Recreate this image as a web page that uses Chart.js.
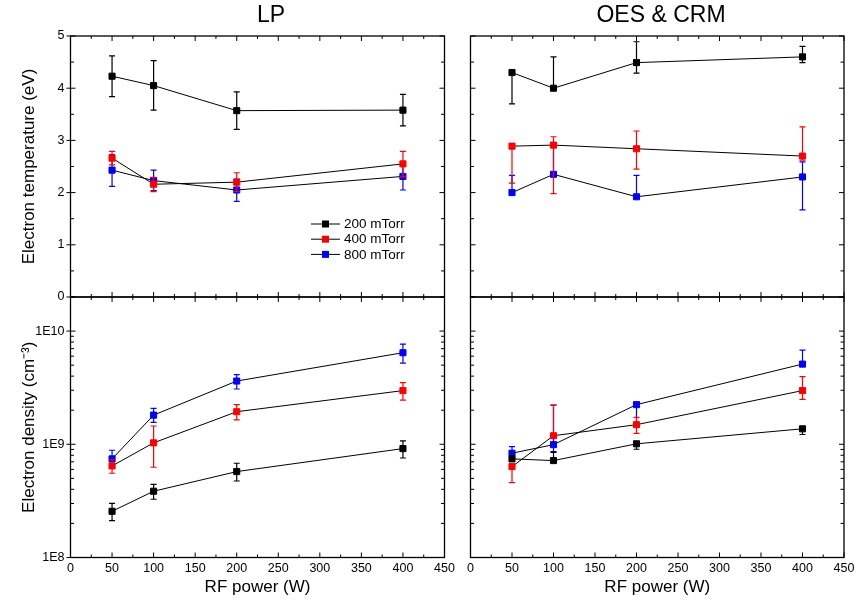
<!DOCTYPE html>
<html>
<head>
<meta charset="utf-8">
<script src="https://cdn.jsdelivr.net/npm/chart.js@4.4.1/dist/chart.umd.min.js"></script>
<style>
html, body { margin: 0; padding: 0; background: #ffffff; }
#wrap { position: relative; width: 865px; height: 606px; background: #ffffff; }
#wrap canvas { position: absolute; left: 0; top: 0; }
</style>
</head>
<body>
<div id="wrap">
  <canvas id="cTL" width="865" height="606"></canvas>
  <canvas id="cTR" width="865" height="606"></canvas>
  <canvas id="cBL" width="865" height="606"></canvas>
  <canvas id="cBR" width="865" height="606"></canvas>
</div>
<script>
// ---------------- DATA ----------------
const power = [50, 100, 200, 400];              // RF power (W)
const seriesLabels = ['200 mTorr', '400 mTorr', '800 mTorr'];
const seriesColors = ['#000000', '#ff0000', '#0000ff'];
const panelTitles = ['LP', 'OES & CRM'];

// LP - electron temperature (eV)
const lpTe200   = [4.23, 4.05, 3.57, 3.58];
const lpTe200Lo = [3.84, 3.58, 3.21, 3.28];
const lpTe200Hi = [4.62, 4.53, 3.93, 3.88];
const lpTe400   = [2.66, 2.16, 2.20, 2.55];
const lpTe400Lo = [2.53, 2.02, 2.02, 2.30];
const lpTe400Hi = [2.79, 2.29, 2.38, 2.79];
const lpTe800   = [2.43, 2.23, 2.05, 2.31];
const lpTe800Lo = [2.12, 2.04, 1.83, 2.05];
const lpTe800Hi = [2.73, 2.43, 2.26, 2.57];

// OES & CRM - electron temperature (eV)
const oesTe200   = [4.30, 4.00, 4.49, 4.60];
const oesTe200Lo = [3.70, 4.00, 4.29, 4.49];
const oesTe200Hi = [4.30, 4.60, 4.89, 4.80];
const oesTe400   = [2.89, 2.91, 2.84, 2.70];
const oesTe400Lo = [2.18, 1.98, 2.45, 2.62];
const oesTe400Hi = [2.89, 3.07, 3.18, 3.26];
const oesTe800   = [2.00, 2.35, 1.92, 2.30];
const oesTe800Lo = [2.00, 2.35, 1.92, 1.67];
const oesTe800Hi = [2.33, 2.89, 2.33, 2.59];

// LP - electron density (cm^-3)
const lpNe200   = [2.56e8, 3.85e8, 5.74e8, 9.16e8];
const lpNe200Lo = [2.12e8, 3.27e8, 4.74e8, 7.57e8];
const lpNe200Hi = [3.01e8, 4.43e8, 6.80e8, 1.07e9];
const lpNe400   = [6.44e8, 1.03e9, 1.94e9, 2.98e9];
const lpNe400Lo = [5.55e8, 6.27e8, 1.64e9, 2.46e9];
const lpNe400Hi = [7.30e8, 1.45e9, 2.24e9, 3.50e9];
const lpNe800   = [7.43e8, 1.81e9, 3.62e9, 6.44e9];
const lpNe800Lo = [6.40e8, 1.56e9, 3.08e9, 5.22e9];
const lpNe800Hi = [8.86e8, 2.08e9, 4.12e9, 7.68e9];

// OES & CRM - electron density (cm^-3)
const oesNe200   = [7.43e8, 7.18e8, 1.01e9, 1.37e9];
const oesNe200Lo = [7.43e8, 7.18e8, 9.04e8, 1.22e9];
const oesNe200Hi = [7.43e8, 8.50e8, 1.01e9, 1.37e9];
const oesNe400   = [6.35e8, 1.19e9, 1.49e9, 2.98e9];
const oesNe400Lo = [4.59e8, 1.19e9, 1.25e9, 2.49e9];
const oesNe400Hi = [6.35e8, 2.22e9, 1.73e9, 3.96e9];
const oesNe800   = [8.34e8, 9.93e8, 2.24e9, 5.11e9];
const oesNe800Lo = [8.34e8, 8.61e8, 1.48e9, 5.11e9];
const oesNe800Hi = [9.53e8, 2.22e9, 2.24e9, 6.79e9];

// ---------------- HELPERS ----------------
const FONT = "'Liberation Sans', Arial, Helvetica, sans-serif";
Chart.defaults.font.family = FONT;
Chart.defaults.color = '#000000';

function makeDatasets(vals, los, his) {
  return vals.map((v, s) => ({
    label: seriesLabels[s],
    data: power.map((x, i) => ({ x: x, y: v[i] })),
    errLo: los[s],
    errHi: his[s],
    errColor: seriesColors[s],
    borderColor: '#000000',
    borderWidth: 1,
    pointStyle: 'rect',
    pointRadius: 4.3,
    pointHoverRadius: 4.3,
    pointBorderWidth: 1,
    pointBackgroundColor: seriesColors[s],
    pointBorderColor: seriesColors[s],
    fill: false,
    tension: 0,
    order: s
  }));
}

const panelPlugin = {
  id: 'panelDeco',
  beforeDatasetDraw(chart, args) {
    const ds = chart.data.datasets[args.index];
    const xs = chart.scales.x, ys = chart.scales.y;
    const ctx = chart.ctx;
    ctx.save();
    ctx.strokeStyle = ds.errColor;
    ctx.lineWidth = 1.2;
    ds.data.forEach((p, i) => {
      const px = xs.getPixelForValue(p.x);
      const lo = ds.errLo[i], hi = ds.errHi[i];
      const yl = ys.getPixelForValue(lo), yh = ys.getPixelForValue(hi);
      ctx.beginPath();
      ctx.moveTo(px, yl); ctx.lineTo(px, yh);
      if (hi > p.y) { ctx.moveTo(px - 3, yh); ctx.lineTo(px + 3, yh); }
      if (lo < p.y) { ctx.moveTo(px - 3, yl); ctx.lineTo(px + 3, yl); }
      ctx.stroke();
    });
    ctx.restore();
  },
  afterDraw(chart, args, opts) {
    const ctx = chart.ctx;
    const ca = chart.chartArea;
    const xs = chart.scales.x, ys = chart.scales.y;
    ctx.save();
    ctx.strokeStyle = '#000000';
    // frame
    ctx.lineWidth = 1.3;
    ctx.strokeRect(ca.left, ca.top, ca.right - ca.left, ca.bottom - ca.top);
    ctx.lineWidth = 1;
    ctx.beginPath();
    // x ticks: majors from scale, minors at midpoints
    const xt = xs.ticks.map(t => t.value);
    xt.forEach((v, i) => {
      const px = xs.getPixelForValue(v);
      ctx.moveTo(px, ca.bottom + (opts.crossX ? 4 : 0)); ctx.lineTo(px, ca.bottom - 5);
      ctx.moveTo(px, ca.top); ctx.lineTo(px, ca.top + 5);
      if (i < xt.length - 1) {
        const pm = xs.getPixelForValue((v + xt[i + 1]) / 2);
        ctx.moveTo(pm, ca.bottom); ctx.lineTo(pm, ca.bottom - 3);
        ctx.moveTo(pm, ca.top); ctx.lineTo(pm, ca.top + 3);
      }
    });
    // y ticks
    const out = opts.outerMajor ? 4 : 0;
    if (ys.type === 'logarithmic') {
      ys.ticks.forEach(t => {
        const v = t.value;
        const e = Math.floor(Math.log10(v) + 1e-9);
        const m = v / Math.pow(10, e);
        if (Math.abs(m - Math.round(m)) > 1e-6) return;
        const py = ys.getPixelForValue(v);
        const major = Math.round(m) === 1;
        const len = major ? 5 : 3.5;
        ctx.moveTo(ca.left - (major ? out : 0), py); ctx.lineTo(ca.left + len, py);
        ctx.moveTo(ca.right, py); ctx.lineTo(ca.right - len, py);
      });
    } else {
      const yt = ys.ticks.map(t => t.value);
      yt.forEach((v, i) => {
        const py = ys.getPixelForValue(v);
        ctx.moveTo(ca.left - out, py); ctx.lineTo(ca.left + 5, py);
        ctx.moveTo(ca.right, py); ctx.lineTo(ca.right - 5, py);
        if (i < yt.length - 1) {
          const pm = ys.getPixelForValue((v + yt[i + 1]) / 2);
          ctx.moveTo(ca.left, pm); ctx.lineTo(ca.left + 3.5, pm);
          ctx.moveTo(ca.right, pm); ctx.lineTo(ca.right - 3.5, pm);
        }
      });
    }
    ctx.stroke();

    // panel title
    if (opts.title) {
      ctx.fillStyle = '#000000';
      ctx.font = "23px " + FONT;
      ctx.textAlign = 'center';
      ctx.textBaseline = 'alphabetic';
      ctx.fillText(opts.title, opts.titleX, opts.titleY);
    }
    // legend
    if (opts.legend) {
      const L = opts.legend;
      ctx.font = "13.5px " + FONT;
      ctx.textAlign = 'left';
      ctx.textBaseline = 'middle';
      chart.data.datasets.forEach((ds, i) => {
        const y = L.y + i * L.dy;
        ctx.strokeStyle = '#000000';
        ctx.lineWidth = 1;
        ctx.beginPath();
        ctx.moveTo(L.x, y); ctx.lineTo(L.x + L.len, y);
        ctx.stroke();
        ctx.fillStyle = ds.pointBackgroundColor;
        ctx.fillRect(L.x + L.len / 2 - 3.5, y - 3.5, 7, 7);
        ctx.fillStyle = '#000000';
        ctx.fillText(ds.label, L.x + L.len + 4, y + 0.5);
      });
    }
    ctx.restore();
  }
};

function makePanel(id, cfg) {
  const yCommon = {
    display: cfg.showY,
    afterFit: s => { s.width = cfg.showY ? 70.5 : 0; },
    grid: { display: false, drawTicks: false },
    border: { display: false },
    title: { display: cfg.showY, text: cfg.yTitle, font: { size: 17 }, padding: { top: 19, bottom: 0 } }
  };
  const yScale = cfg.log ? Object.assign({
    type: 'logarithmic', min: 1e8, max: 2e10,
    ticks: {
      autoSkip: false, padding: 6, font: { size: 12.5 },
      callback: (v) => {
        const l = Math.log10(v);
        return Math.abs(l - Math.round(l)) < 1e-9 ? '1E' + Math.round(l) : '';
      }
    }
  }, yCommon) : Object.assign({
    type: 'linear', min: 0, max: 5,
    ticks: { stepSize: 1, padding: 6, font: { size: 12.5 } }
  }, yCommon);
  return new Chart(document.getElementById(id), {
    type: 'line',
    data: { datasets: cfg.datasets },
    options: {
      responsive: false,
      animation: false,
      events: [],
      layout: { padding: cfg.padding },
      plugins: {
        legend: { display: false },
        tooltip: { enabled: false },
        title: { display: false },
        panelDeco: cfg.deco
      },
      scales: {
        x: {
          type: 'linear', min: 0, max: 450,
          display: cfg.showX,
          afterFit: s => { s.height = cfg.showX ? 48.5 : 0; },
          grid: { display: false, drawTicks: false },
          border: { display: false },
          ticks: { stepSize: 50, padding: 4, font: { size: 12.5 }, maxRotation: 0, autoSkip: false },
          title: { display: cfg.showX, text: 'RF power (W)', font: { size: 17 }, padding: { top: 0, bottom: 8 } }
        },
        y: yScale
      }
    },
    plugins: [panelPlugin]
  });
}

makePanel('cTL', {
  log: false, showY: true, showX: false,
  yTitle: 'Electron temperature (eV)',
  padding: { left: 0, right: 420.5, top: 36, bottom: 309 },
  datasets: makeDatasets([lpTe200, lpTe400, lpTe800], [lpTe200Lo, lpTe400Lo, lpTe800Lo], [lpTe200Hi, lpTe400Hi, lpTe800Hi]),
  deco: { outerMajor: true, title: panelTitles[0], titleX: 271, titleY: 22,
          legend: { x: 311, y: 224, dy: 15.2, len: 29 } }
});
makePanel('cTR', {
  log: false, showY: false, showX: false,
  yTitle: '',
  padding: { left: 470.5, right: 21, top: 36, bottom: 309 },
  datasets: makeDatasets([oesTe200, oesTe400, oesTe800], [oesTe200Lo, oesTe400Lo, oesTe800Lo], [oesTe200Hi, oesTe400Hi, oesTe800Hi]),
  deco: { outerMajor: false, title: panelTitles[1], titleX: 661, titleY: 22 }
});
makePanel('cBL', {
  log: true, showY: true, showX: true,
  yTitle: 'Electron density (cm\u207B\u00B3)',
  padding: { left: 0, right: 420.5, top: 297, bottom: 0 },
  datasets: makeDatasets([lpNe200, lpNe400, lpNe800], [lpNe200Lo, lpNe400Lo, lpNe800Lo], [lpNe200Hi, lpNe400Hi, lpNe800Hi]),
  deco: { outerMajor: true }
});
makePanel('cBR', {
  log: true, showY: false, showX: true,
  yTitle: '',
  padding: { left: 470.5, right: 21, top: 297, bottom: 0 },
  datasets: makeDatasets([oesNe200, oesNe400, oesNe800], [oesNe200Lo, oesNe400Lo, oesNe800Lo], [oesNe200Hi, oesNe400Hi, oesNe800Hi]),
  deco: { outerMajor: false }
});
</script>
</body>
</html>
